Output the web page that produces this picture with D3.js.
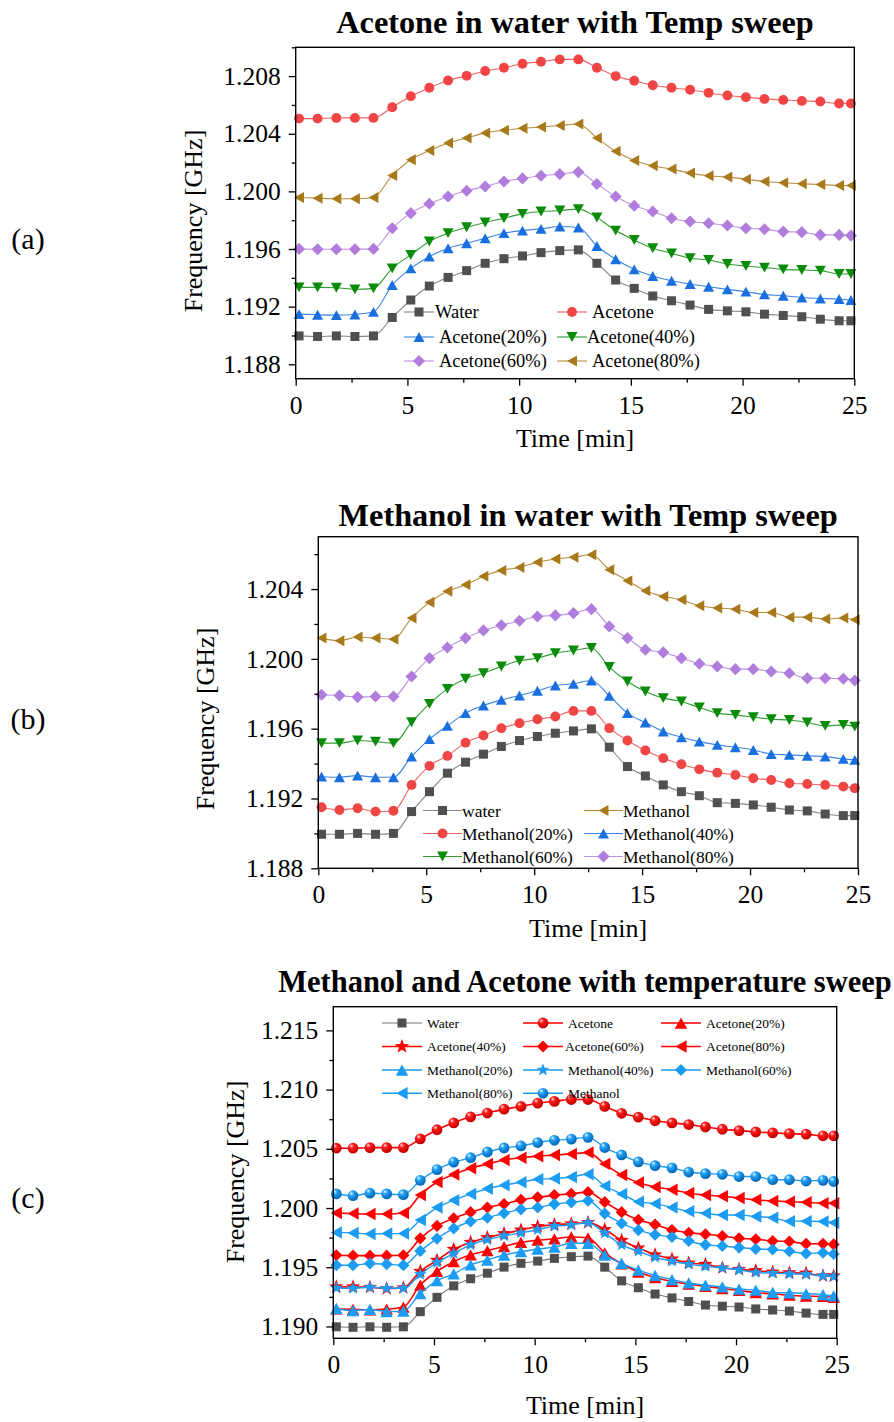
<!DOCTYPE html>
<html>
<head>
<meta charset="utf-8">
<script src="https://cdn.jsdelivr.net/npm/d3@7"></script>
<style>
  body { margin: 0; background: #fff; }
  svg { display: block; font-family: "Liberation Serif", "Times New Roman", serif; }
</style>
</head>
<body>
<svg id="fig" width="894" height="1422"></svg>
<script>
// ---- data ----------------------------------------------------------------
// sampling times (min), shared by every curve
const times = [0.15, 0.98, 1.82, 2.65, 3.48, 4.32, 5.15, 5.98, 6.82, 7.65, 8.48, 9.32, 10.15, 10.98, 11.82, 12.65,
               13.48, 14.32, 15.15, 15.98, 16.82, 17.65, 18.48, 19.32, 20.15, 20.98, 21.82, 22.65, 23.48, 24.32, 24.85];

// resonance frequency (GHz), acetone / water mixtures
const water = [1.18997, 1.18993, 1.18997, 1.18993, 1.18997, 1.19125, 1.19246, 1.19343, 1.19403, 1.19450, 1.19501, 1.19533, 1.19552, 1.19575, 1.19589, 1.19594,
               1.19501, 1.19385, 1.19327, 1.19274, 1.19241, 1.19211, 1.19181, 1.19171, 1.19164, 1.19148, 1.19139, 1.19130, 1.19113, 1.19102, 1.19102];
const acetone = [1.20505, 1.20505, 1.20510, 1.20510, 1.20510, 1.20584, 1.20661, 1.20719, 1.20770, 1.20802, 1.20835, 1.20858, 1.20886, 1.20900, 1.20916, 1.20916,
                 1.20858, 1.20800, 1.20768, 1.20737, 1.20719, 1.20705, 1.20684, 1.20665, 1.20654, 1.20642, 1.20635, 1.20628, 1.20624, 1.20610, 1.20610];
const acetone20 = [1.19148, 1.19144, 1.19141, 1.19146, 1.19164, 1.19350, 1.19466, 1.19547, 1.19605, 1.19640, 1.19675, 1.19710, 1.19728, 1.19740, 1.19756, 1.19749,
                   1.19621, 1.19529, 1.19459, 1.19413, 1.19380, 1.19357, 1.19338, 1.19320, 1.19304, 1.19285, 1.19276, 1.19264, 1.19257, 1.19253, 1.19246];
const acetone40 = [1.19334, 1.19334, 1.19331, 1.19320, 1.19327, 1.19466, 1.19559, 1.19652, 1.19710, 1.19751, 1.19784, 1.19814, 1.19844, 1.19860, 1.19867, 1.19877,
                   1.19819, 1.19728, 1.19663, 1.19605, 1.19570, 1.19536, 1.19524, 1.19496, 1.19482, 1.19471, 1.19459, 1.19454, 1.19450, 1.19427, 1.19427];
const acetone60 = [1.19601, 1.19598, 1.19598, 1.19598, 1.19601, 1.19744, 1.19849, 1.19914, 1.19965, 1.20004, 1.20034, 1.20069, 1.20090, 1.20109, 1.20120, 1.20134,
                   1.20051, 1.19965, 1.19900, 1.19860, 1.19814, 1.19791, 1.19779, 1.19763, 1.19744, 1.19737, 1.19721, 1.19717, 1.19698, 1.19698, 1.19693];
const acetone80 = [1.19958, 1.19953, 1.19949, 1.19949, 1.19958, 1.20111, 1.20220, 1.20283, 1.20336, 1.20371, 1.20406, 1.20424, 1.20438, 1.20447, 1.20457, 1.20468,
                   1.20371, 1.20278, 1.20215, 1.20178, 1.20155, 1.20127, 1.20109, 1.20099, 1.20085, 1.20069, 1.20060, 1.20053, 1.20048, 1.20041, 1.20041];

// resonance frequency (GHz), methanol / water mixtures
const waterB = [1.18995, 1.18995, 1.19000, 1.18995, 1.19000, 1.19125, 1.19239, 1.19345, 1.19408, 1.19454, 1.19498, 1.19532, 1.19555, 1.19574, 1.19587, 1.19599,
                1.19494, 1.19383, 1.19329, 1.19278, 1.19239, 1.19216, 1.19176, 1.19172, 1.19163, 1.19150, 1.19134, 1.19129, 1.19111, 1.19102, 1.19102];
const methanol = [1.20119, 1.20104, 1.20125, 1.20119, 1.20113, 1.20234, 1.20324, 1.20387, 1.20425, 1.20473, 1.20507, 1.20524, 1.20553, 1.20572, 1.20582, 1.20597,
                  1.20511, 1.20448, 1.20390, 1.20358, 1.20339, 1.20304, 1.20291, 1.20285, 1.20266, 1.20266, 1.20239, 1.20239, 1.20228, 1.20234, 1.20224];
const methanol20 = [1.19150, 1.19134, 1.19144, 1.19125, 1.19130, 1.19278, 1.19387, 1.19444, 1.19520, 1.19561, 1.19603, 1.19631, 1.19654, 1.19670, 1.19702, 1.19702,
                    1.19603, 1.19532, 1.19475, 1.19431, 1.19396, 1.19367, 1.19348, 1.19335, 1.19316, 1.19306, 1.19287, 1.19283, 1.19278, 1.19268, 1.19259];
const methanol40 = [1.19325, 1.19322, 1.19331, 1.19322, 1.19322, 1.19440, 1.19540, 1.19616, 1.19689, 1.19733, 1.19765, 1.19790, 1.19817, 1.19847, 1.19857, 1.19876,
                    1.19788, 1.19689, 1.19635, 1.19584, 1.19551, 1.19526, 1.19507, 1.19494, 1.19478, 1.19455, 1.19450, 1.19444, 1.19440, 1.19427, 1.19421];
const methanol60 = [1.19517, 1.19517, 1.19532, 1.19526, 1.19517, 1.19637, 1.19742, 1.19828, 1.19886, 1.19918, 1.19956, 1.19989, 1.20004, 1.20033, 1.20048, 1.20062,
                    1.19953, 1.19870, 1.19813, 1.19775, 1.19756, 1.19721, 1.19689, 1.19679, 1.19666, 1.19654, 1.19650, 1.19635, 1.19616, 1.19622, 1.19612];
const methanol80 = [1.19794, 1.19790, 1.19781, 1.19784, 1.19784, 1.19899, 1.20004, 1.20065, 1.20119, 1.20163, 1.20192, 1.20218, 1.20243, 1.20249, 1.20262, 1.20285,
                    1.20186, 1.20119, 1.20052, 1.20037, 1.20004, 1.19972, 1.19956, 1.19941, 1.19941, 1.19928, 1.19918, 1.19889, 1.19889, 1.19886, 1.19876];

// axis ticks
const xTicks = [0, 5, 10, 15, 20, 25];
const xMinorTicks = [2.5, 7.5, 12.5, 17.5, 22.5];
const yTicksA = [1.188, 1.192, 1.196, 1.200, 1.204, 1.208];
const yMinorA = [1.190, 1.194, 1.198, 1.202, 1.206, 1.210];
const yTicksB = [1.188, 1.192, 1.196, 1.200, 1.204];
const yMinorB = [1.190, 1.194, 1.198, 1.202, 1.206];
const yTicksC = [1.190, 1.195, 1.200, 1.205, 1.210, 1.215];
const yMinorC = [1.1925, 1.1975, 1.2025, 1.2075, 1.2125];

// ---- drawing helpers -----------------------------------------------------
const svg = d3.select("#fig");
const defs = svg.append("defs");

function sphere(id, c0, c1, c2) {
  const g = defs.append("radialGradient").attr("id", id)
    .attr("cx", "38%").attr("cy", "34%").attr("r", "62%").attr("fx", "34%").attr("fy", "28%");
  g.append("stop").attr("offset", "0%").attr("stop-color", c0);
  g.append("stop").attr("offset", "35%").attr("stop-color", c1);
  g.append("stop").attr("offset", "100%").attr("stop-color", c2);
}
sphere("sphRed", "#ffe4e4", "#ff1a1a", "#c40000");
sphere("sphBlue", "#e6f6ff", "#22a2f6", "#0668b8");

function markerPath(shape, s) {
  const h = s / 2;
  switch (shape) {
    case "square": { const a = s * 0.41; return `M${-a},${-a}H${a}V${a}H${-a}Z`; }
    case "circle": return d3.symbol(d3.symbolCircle, Math.PI * (s * 0.45) ** 2)();
    case "up": { const t = s * 0.45; return `M0,${-t}L${h},${t}L${-h},${t}Z`; }
    case "down": { const t = s * 0.45; return `M0,${t}L${h},${-t}L${-h},${-t}Z`; }
    case "left": { const t = s * 0.45; return `M${-t},0L${t},${-h}L${t},${h}Z`; }
    case "diamond": { const a = s * 0.55; return `M0,${-a}L${a},0L0,${a}L${-a},0Z`; }
    case "star": {
      const R = s * 0.58, r = R * 0.42, pts = [];
      for (let i = 0; i < 10; i++) {
        const ang = -Math.PI / 2 + i * Math.PI / 5, rad = i % 2 ? r : R;
        pts.push([rad * Math.cos(ang), rad * Math.sin(ang)]);
      }
      return "M" + pts.map(p => p[0].toFixed(2) + "," + p[1].toFixed(2)).join("L") + "Z";
    }
  }
}

function drawMarker(g, shape, s, fill, x, y) {
  g.append("path").attr("d", markerPath(shape, s))
    .attr("transform", `translate(${x},${y})`)
    .attr("fill", fill).attr("stroke", "none");
}

function drawPanel(cfg) {
  const x = d3.scaleLinear().domain([0, 25]).range([cfg.left, cfg.right]);
  const y = d3.scaleLinear().domain(cfg.yDomain).range([cfg.bottom, cfg.top]);
  const g = svg.append("g");

  // data
  const line = d3.line().x((d, i) => x(times[i])).y(d => y(d)).curve(d3.curveMonotoneX);
  cfg.series.forEach(s => {
    g.append("path").attr("d", line(s.values)).attr("fill", "none")
      .attr("stroke", s.line).attr("stroke-width", s.lw).attr("stroke-opacity", s.lo);
    s.values.forEach((v, i) => drawMarker(g, s.shape, s.size, s.fill, x(times[i]), y(v)));
  });

  // frame
  g.append("rect").attr("x", cfg.left).attr("y", cfg.top)
    .attr("width", cfg.right - cfg.left).attr("height", cfg.bottom - cfg.top)
    .attr("fill", "none").attr("stroke", "#000").attr("stroke-width", 1.4);

  // y axis
  g.append("g").attr("transform", `translate(${cfg.left},0)`)
    .call(d3.axisLeft(y).tickValues(cfg.yTicks).tickFormat(d3.format(".3f")).tickSize(7).tickPadding(8));
  g.append("g").attr("transform", `translate(${cfg.left},0)`)
    .call(d3.axisLeft(y).tickValues(cfg.yMinor).tickFormat("").tickSize(4));
  // x axis
  g.append("g").attr("transform", `translate(0,${cfg.bottom})`)
    .call(d3.axisBottom(x).tickValues(xTicks).tickFormat(d3.format("d")).tickSize(7).tickPadding(cfg.xPad));
  g.append("g").attr("transform", `translate(0,${cfg.bottom})`)
    .call(d3.axisBottom(x).tickValues(xMinorTicks).tickFormat("").tickSize(4));
  g.selectAll(".domain").remove();
  g.selectAll(".tick line").attr("stroke", "#000").attr("stroke-width", 1.3);
  g.selectAll(".tick text").attr("font-family", "Liberation Serif, Times New Roman, serif")
    .attr("font-size", cfg.tickFont).attr("fill", "#000");

  // titles
  svg.append("text").attr("x", (cfg.left + cfg.right) / 2).attr("y", cfg.titleY)
    .attr("text-anchor", "middle").attr("dominant-baseline", "central")
    .attr("font-weight", "bold").attr("font-size", cfg.titleFont).text(cfg.title);
  svg.append("text").attr("x", (cfg.left + cfg.right) / 2).attr("y", cfg.xTitleY)
    .attr("text-anchor", "middle").attr("dominant-baseline", "central")
    .attr("font-size", 26).text("Time [min]");
  svg.append("text").attr("transform", `translate(${cfg.yTitleX},${cfg.yTitleY}) rotate(-90)`)
    .attr("text-anchor", "middle").attr("dominant-baseline", "central")
    .attr("font-size", 26).text("Frequency [GHz]");
  svg.append("text").attr("x", 28).attr("y", cfg.tagY)
    .attr("text-anchor", "middle").attr("dominant-baseline", "central")
    .attr("font-size", 30).text(cfg.tag);

  // legend
  const lg = svg.append("g");
  cfg.series.forEach((s, i) => {
    const L = cfg.legend[i];
    lg.append("line").attr("x1", L.x0).attr("x2", L.x1).attr("y1", L.y).attr("y2", L.y)
      .attr("stroke", s.line).attr("stroke-width", s.lw).attr("stroke-opacity", s.lo);
    drawMarker(lg, s.shape, s.size, s.fill, (L.x0 + L.x1) / 2, L.y);
    lg.append("text").attr("x", L.tx).attr("y", L.y).attr("dominant-baseline", "central")
      .attr("font-size", cfg.legendFont).text(s.name);
  });
}

// ---- panel (a) -------------------------------------------------------------
const cGrey = "#505050", cRed = "#f04545", cBlue = "#1a6fdf", cGreen = "#0a8c0a", cPurple = "#b07ddd", cGold = "#a8791b";
function ser(name, values, shape, fill, line, size, lw, lo) {
  return { name, values, shape, fill, line, size: size || 11, lw: lw || 1.1, lo: lo == null ? 0.85 : lo };
}

drawPanel({
  left: 295.7, right: 854.3, top: 47.3, bottom: 378.7, yDomain: [1.187, 1.210],
  yTicks: yTicksA, yMinor: yMinorA, tickFont: 25.5, xPad: 10,
  title: "Acetone in water with Temp sweep", titleY: 22, titleFont: 32.3,
  xTitleY: 438, yTitleX: 193, yTitleY: 221, tag: "(a)", tagY: 238, legendFont: 18.5,
  series: [
    ser("Water", water, "square", cGrey, "#707070"),
    ser("Acetone", acetone, "circle", cRed, cRed),
    ser("Acetone(20%)", acetone20, "up", cBlue, cBlue),
    ser("Acetone(40%)", acetone40, "down", cGreen, cGreen),
    ser("Acetone(60%)", acetone60, "diamond", cPurple, cPurple),
    ser("Acetone(80%)", acetone80, "left", cGold, cGold)
  ],
  legend: [
    { x0: 404, x1: 434, tx: 435, y: 312 }, { x0: 557, x1: 587, tx: 592, y: 312 },
    { x0: 404, x1: 434, tx: 439, y: 337 }, { x0: 557, x1: 587, tx: 587, y: 337 },
    { x0: 404, x1: 434, tx: 439, y: 361 }, { x0: 557, x1: 587, tx: 592, y: 361 }
  ]
});

// ---- panel (b) -------------------------------------------------------------
drawPanel({
  left: 318.3, right: 858, top: 536.7, bottom: 868.3, yDomain: [1.188, 1.207],
  yTicks: yTicksB, yMinor: yMinorB, tickFont: 25.5, xPad: 10,
  title: "Methanol in water with Temp sweep", titleY: 515, titleFont: 32.3,
  xTitleY: 928, yTitleX: 205, yTitleY: 719, tag: "(b)", tagY: 718, legendFont: 17.5,
  series: [
    ser("water", waterB, "square", cGrey, "#707070"),
    ser("Methanol", methanol, "left", cGold, cGold),
    ser("Methanol(20%)", methanol20, "circle", cRed, cRed),
    ser("Methanol(40%)", methanol40, "up", cBlue, cBlue),
    ser("Methanol(60%)", methanol60, "down", cGreen, cGreen),
    ser("Methanol(80%)", methanol80, "diamond", cPurple, cPurple)
  ],
  legend: [
    { x0: 423, x1: 462, tx: 462, y: 810.5 }, { x0: 584, x1: 623, tx: 623, y: 810.5 },
    { x0: 423, x1: 462, tx: 462, y: 833.5 }, { x0: 584, x1: 623, tx: 623, y: 833.5 },
    { x0: 423, x1: 462, tx: 462, y: 856.5 }, { x0: 584, x1: 623, tx: 623, y: 856.5 }
  ]
});

// ---- panel (c) -------------------------------------------------------------
const cR = "#ff0000", cB = "#1b9cf2";
drawPanel({
  left: 333.3, right: 836.7, top: 1006.7, bottom: 1338.3, yDomain: [1.189, 1.217],
  yTicks: yTicksC, yMinor: yMinorC, tickFont: 25.5, xPad: 10,
  title: "Methanol and Acetone with temperature sweep", titleY: 982, titleFont: 30.5,
  xTitleY: 1405, yTitleX: 235, yTitleY: 1172, tag: "(c)", tagY: 1197, legendFont: 13.5,
  series: [
    ser("Water", water, "square", "#4f4f4f", "#777777", 11, 1.1, 1),
    ser("Acetone", acetone, "circle", "url(#sphRed)", cR, 12, 1.6, 1),
    ser("Acetone(20%)", acetone20, "up", cR, cR, 12.5, 1.6, 1),
    ser("Acetone(40%)", acetone40, "star", cR, cR, 13, 1.6, 1),
    ser("Acetone(60%)", acetone60, "diamond", cR, cR, 11, 1.6, 1),
    ser("Acetone(80%)", acetone80, "left", cR, cR, 12.5, 1.6, 1),
    ser("Methanol(20%)", methanol20, "up", cB, cB, 12.5, 1.4, 1),
    ser("Methanol(40%)", methanol40, "star", cB, cB, 11.5, 1.4, 1),
    ser("Methanol(60%)", methanol60, "diamond", cB, cB, 11, 1.4, 1),
    ser("Methanol(80%)", methanol80, "left", cB, cB, 12.5, 1.4, 1),
    ser("Methanol", methanol, "circle", "url(#sphBlue)", cB, 12, 1.4, 1)
  ],
  legend: [
    { x0: 382, x1: 422, tx: 427, y: 1023 }, { x0: 523, x1: 563, tx: 568, y: 1023 }, { x0: 661, x1: 701, tx: 706, y: 1023 },
    { x0: 382, x1: 422, tx: 427, y: 1046.5 }, { x0: 523, x1: 563, tx: 565, y: 1046.5 }, { x0: 661, x1: 701, tx: 706, y: 1046.5 },
    { x0: 382, x1: 422, tx: 427, y: 1070 }, { x0: 523, x1: 563, tx: 568, y: 1070 }, { x0: 661, x1: 701, tx: 706, y: 1070 },
    { x0: 382, x1: 422, tx: 427, y: 1093.3 }, { x0: 523, x1: 563, tx: 568, y: 1093.3 }
  ]
});
</script>
</body>
</html>
